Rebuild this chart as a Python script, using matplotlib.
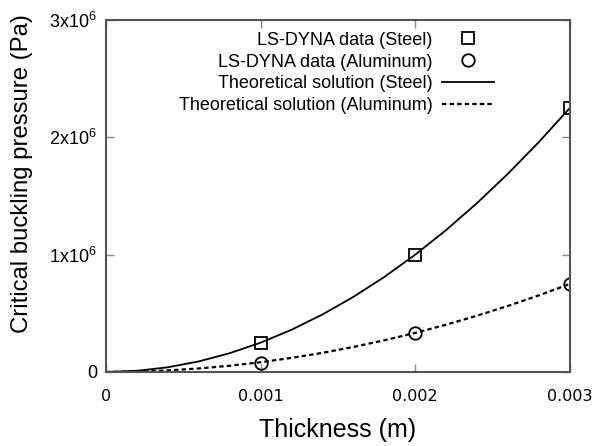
import matplotlib
matplotlib.use('Agg')
import matplotlib.pyplot as plt

plt.rcParams['font.family'] = ['Liberation Sans', 'DejaVu Sans']
plt.rcParams['mathtext.fontset'] = 'custom'
plt.rcParams['mathtext.rm'] = 'Liberation Sans'
plt.rcParams['mathtext.it'] = 'Liberation Sans'

# LS-DYNA results
t_data = [0.001, 0.002, 0.003]
steel_data = [2.5e5, 1.0e6, 2.25e6]
alu_data = [8.0e4, 3.35e5, 7.5e5]

# theoretical curves
t_theory = [0.0, 0.0002, 0.0004, 0.0006, 0.0008, 0.001, 0.0012, 0.0014,
            0.0016, 0.0018, 0.002, 0.0022, 0.0024, 0.0026, 0.0028, 0.003]
steel_theory = [0, 1.0e4, 4.0e4, 9.0e4, 1.6e5, 2.5e5, 3.6e5, 4.9e5,
                6.4e5, 8.1e5, 1.0e6, 1.21e6, 1.44e6, 1.69e6, 1.96e6, 2.25e6]
alu_theory = [0, 3.3e3, 1.33e4, 3.0e4, 5.3e4, 8.3e4, 1.2e5, 1.63e5,
              2.13e5, 2.7e5, 3.33e5, 4.03e5, 4.8e5, 5.63e5, 6.53e5, 7.5e5]

xticks = [0, 0.001, 0.002, 0.003]
xtick_labels = ['0', '0.001', '0.002', '0.003']
yticks = [0, 1e6, 2e6, 3e6]
ytick_labels = ['0', '1x10$^{6}$', '2x10$^{6}$', '3x10$^{6}$']

fig = plt.figure(figsize=(5.96, 4.46), dpi=100)
ax = fig.add_axes([0.178, 0.166, 0.778, 0.789])

ax.plot(t_data, steel_data, 's', color='k', ms=9, mfc='none', mew=1.3,
        label='LS-DYNA data (Steel)')
ax.plot(t_data, alu_data, 'o', color='k', ms=9, mfc='none', mew=1.3,
        label='LS-DYNA data (Aluminum)')
ax.plot(t_theory, steel_theory, '-', color='k', lw=1.3,
        label='Theoretical solution (Steel)')
ax.plot(t_theory, alu_theory, color='k', lw=1.6, linestyle=(0, (2, 1.4)),
        label='Theoretical solution (Aluminum)')

ax.set_xlim(0, 0.003)
ax.set_ylim(0, 3e6)
ax.set_xticks(xticks)
ax.set_xticklabels(xtick_labels, family='DejaVu Sans', fontsize=11.5)
ax.set_yticks(yticks)
ax.set_yticklabels(ytick_labels, fontsize=13)
ax.tick_params(direction='in', top=True, right=True, length=6, width=1,
               color='#888888')
ax.tick_params(axis='x', pad=12)
ax.tick_params(axis='y', pad=6.5)
for s in ax.spines.values():
    s.set_color('#555555')
    s.set_linewidth(1.5)

ax.set_xlabel('Thickness (m)', fontsize=18, labelpad=10)
ax.set_ylabel('Critical buckling pressure (Pa)', fontsize=17.2)
ax.yaxis.set_label_coords(-0.157, 0.565)

leg = ax.legend(loc='upper right', bbox_to_anchor=(0.872, 1.013), frameon=False,
                markerfirst=False, fontsize=13, handlelength=2.9,
                labelspacing=0.27, handletextpad=0.5, numpoints=1)

fig.savefig('out.png', dpi=100)
